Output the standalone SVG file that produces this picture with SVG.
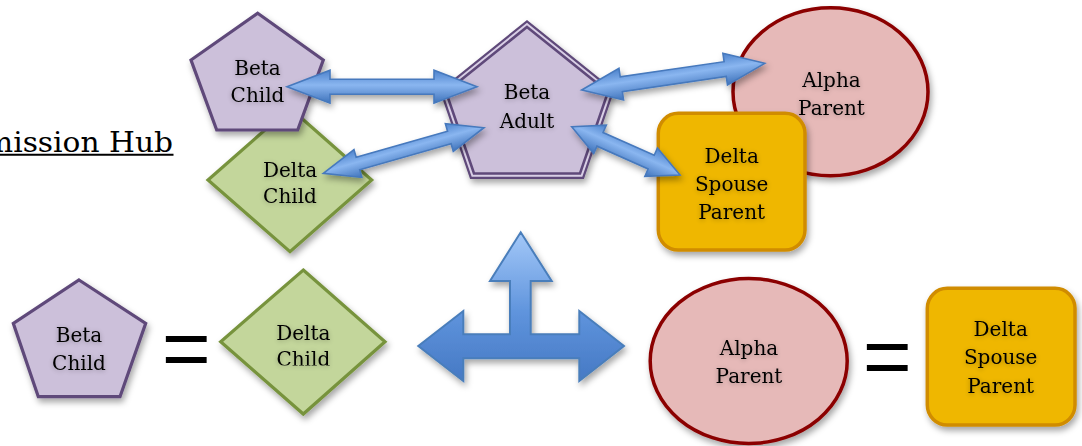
<svg xmlns="http://www.w3.org/2000/svg" width="1082" height="446" viewBox="0 0 1082 446">
  <style>
    .lbl { font-family: "DejaVu Serif", "Liberation Serif", serif; font-size: 20px; fill: #000; text-anchor: middle; }
    .eq { font-family: "Liberation Sans", Arial, sans-serif; font-size: 84px; fill: #000; text-anchor: middle; }
    .purple { fill: #ccc0da; stroke: #5f497a; stroke-width: 3.2; stroke-linejoin: miter; }
    .green { fill: #c3d69b; stroke: #77933c; stroke-width: 3.2; }
    .red { fill: #e6b9b8; stroke: #8b0000; stroke-width: 3.5; }
    .gold { fill: #efb700; stroke: #d08c00; stroke-width: 3.5; }
    .conn { fill: url(#arrowGrad); stroke: #4679bd; stroke-width: 1.6; stroke-linejoin: miter; }
  </style>
  <defs>
    <filter id="shadow" x="-20%" y="-20%" width="140%" height="150%">
      <feDropShadow dx="2" dy="4" stdDeviation="3" flood-color="#000" flood-opacity="0.35"/>
    </filter>
    <filter id="tshadow" x="-20%" y="-30%" width="140%" height="160%">
      <feGaussianBlur in="SourceAlpha" stdDeviation="2.5" result="b"/>
      <feOffset dx="0" dy="1" result="o"/>
      <feComponentTransfer in="o" result="s"><feFuncA type="linear" slope="0.3"/></feComponentTransfer>
      <feMerge><feMergeNode in="s"/><feMergeNode in="SourceGraphic"/></feMerge>
    </filter>
    <linearGradient id="arrowGrad" x1="0" y1="0" x2="0" y2="1">
      <stop offset="0" stop-color="#4c82cc"/>
      <stop offset="0.45" stop-color="#8ab6f0"/>
      <stop offset="1" stop-color="#3f73bb"/>
    </linearGradient>
    <linearGradient id="bigGrad" x1="0" y1="0" x2="0" y2="1">
      <stop offset="0" stop-color="#a3c8f8"/>
      <stop offset="0.55" stop-color="#5e93dc"/>
      <stop offset="1" stop-color="#4679c4"/>
    </linearGradient>
    <clipPath id="clipChild">
      <rect x="250" y="300" width="110" height="65.5"/>
    </clipPath>
  </defs>

  <rect width="1082" height="446" fill="#fff"/>

  <g id="title">
    <text x="-15" y="152" textLength="188" lengthAdjust="spacingAndGlyphs" style="font-family: 'DejaVu Serif', 'Liberation Serif', serif; font-size: 28.5px; fill: #000;">mission Hub</text>
    <line x1="0" y1="154.8" x2="173.5" y2="154.8" stroke="#000" stroke-width="2"/>
  </g>

  <g id="delta-child-top">
    <polygon class="green" filter="url(#shadow)" points="290,108 371.7,180 290,251.7 208,180"/>
    <g filter="url(#tshadow)">
      <text class="lbl" x="290" y="176.7">Delta</text>
      <text class="lbl" x="290" y="203">Child</text>
    </g>
  </g>

  <g id="beta-child-top">
    <polygon class="purple" filter="url(#shadow)" points="257.7,13.3 323.3,60 297.7,130 216.7,130 191,60"/>
    <g filter="url(#tshadow)">
      <text class="lbl" x="257.5" y="75">Beta</text>
      <text class="lbl" x="257.5" y="101.7">Child</text>
    </g>
  </g>

  <g id="beta-adult">
    <polygon points="527,27 608,92 580,173.5 474,173.5 446,92" fill="#ccc0da" stroke="#5f497a" stroke-width="11" filter="url(#shadow)"/>
    <polygon points="527,27 608,92 580,173.5 474,173.5 446,92" fill="none" stroke="#d9cfe6" stroke-width="6.5"/>
    <polygon points="527,27 608,92 580,173.5 474,173.5 446,92" fill="#ccc0da" stroke="#5f497a" stroke-width="2.6"/>
    <g filter="url(#tshadow)">
      <text class="lbl" x="527" y="99.3">Beta</text>
      <text class="lbl" x="527" y="127.7">Adult</text>
    </g>
  </g>

  <g id="alpha-parent-top">
    <ellipse class="red" filter="url(#shadow)" cx="830.5" cy="91.7" rx="97.5" ry="84"/>
    <g filter="url(#tshadow)">
      <text class="lbl" x="831.5" y="87.3">Alpha</text>
      <text class="lbl" x="831.5" y="115">Parent</text>
    </g>
  </g>

  <g id="delta-spouse-top">
    <rect class="gold" filter="url(#shadow)" x="658.3" y="113.3" width="146.7" height="136.7" rx="20" ry="20"/>
    <g filter="url(#tshadow)">
      <text class="lbl" x="731.7" y="162.7">Delta</text>
      <text class="lbl" x="731.7" y="190.7">Spouse</text>
      <text class="lbl" x="731.7" y="219.3">Parent</text>
    </g>
  </g>

  <g id="beta-child-bottom">
    <polygon class="purple" filter="url(#shadow)" points="79,280 145.7,323.3 120,396.7 38.3,396.7 13.3,323.3"/>
    <g filter="url(#tshadow)">
      <text class="lbl" x="79" y="341.7">Beta</text>
      <text class="lbl" x="79" y="370">Child</text>
    </g>
  </g>

  <g id="equals-1">
    <text class="eq" x="186.3" y="377">=</text>
  </g>

  <g id="delta-child-bottom">
    <polygon class="green" filter="url(#shadow)" points="303.3,270 385,341.7 303.3,414 220.7,341.7"/>
    <g filter="url(#tshadow)">
      <text class="lbl" x="303.3" y="340">Delta</text>
      <text class="lbl" x="303.3" y="366" clip-path="url(#clipChild)">Child</text>
    </g>
  </g>

  <g id="hub-arrow">
    <polygon filter="url(#shadow)" fill="url(#bigGrad)" stroke="#4a7ebb" stroke-width="2" stroke-linejoin="miter" points="520.7,232.3 551.7,281 530.7,281 530.7,334.3 579.3,334.3 579.3,311 624,346 579.3,381 579.3,358.3 463.3,358.3 463.3,381 418.3,346 463.3,311 463.3,334.3 510,334.3 510,281 490,281"/>
  </g>

  <g id="alpha-parent-bottom">
    <ellipse class="red" filter="url(#shadow)" cx="748.7" cy="361" rx="98.5" ry="82.5"/>
    <g filter="url(#tshadow)">
      <text class="lbl" x="749" y="355">Alpha</text>
      <text class="lbl" x="749" y="383.3">Parent</text>
    </g>
  </g>

  <g id="equals-2">
    <text class="eq" x="887.2" y="384.5">=</text>
  </g>

  <g id="delta-spouse-bottom">
    <rect class="gold" filter="url(#shadow)" x="927.3" y="288.3" width="147.7" height="136.7" rx="20" ry="20"/>
    <g filter="url(#tshadow)">
      <text class="lbl" x="1000.7" y="336">Delta</text>
      <text class="lbl" x="1000.7" y="364">Spouse</text>
      <text class="lbl" x="1000.7" y="392.7">Parent</text>
    </g>
  </g>

  <g id="connectors" filter="url(#shadow)">
    <polygon class="conn" transform="translate(287,86.7)" points="0,0 43,-16.5 43,-7.5 147,-7.5 147,-16.5 190,0 147,16.5 147,7.5 43,7.5 43,16.5"/>
    <polygon class="conn" transform="translate(323.3,173.3) rotate(-15.84)" points="0,0 36,-14.5 36,-6.5 131,-6.5 131,-14.5 167,0 131,14.5 131,6.5 36,6.5 36,14.5"/>
    <polygon class="conn" transform="translate(581.7,90) rotate(-8.29)" points="0,0 40,-16 40,-7.5 145,-7.5 145,-16 185,0 145,16 145,7.5 40,7.5 40,16"/>
    <polygon class="conn" transform="translate(571.7,126.7) rotate(24.04)" points="0,0 31,-15.5 31,-7.5 87,-7.5 87,-15.5 118.6,0 87,15.5 87,7.5 31,7.5 31,15.5"/>
  </g>
</svg>
